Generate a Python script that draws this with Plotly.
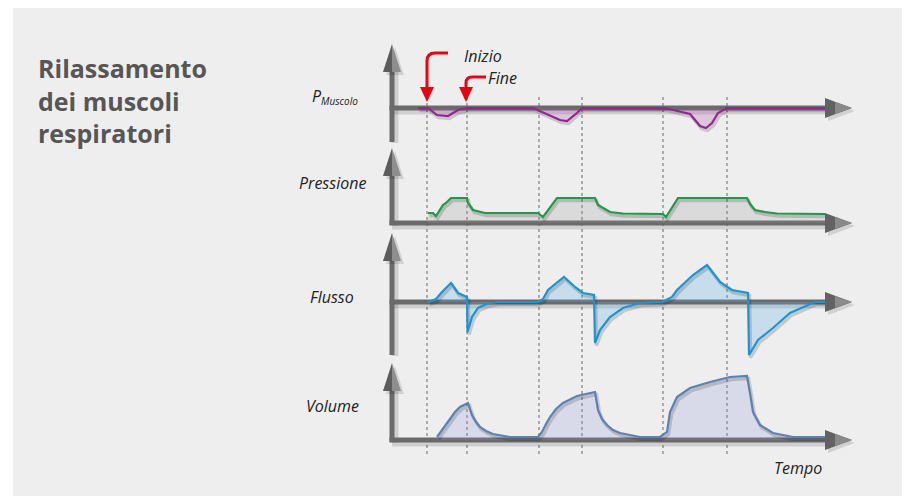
import numpy as np
import plotly.graph_objects as go

# page offset of the plot inside the browser page (body margin)
OFF = 8
W, H = 910 - OFF, 496 - OFF

# ---------------- data (time units, origin at the vertical axes) ----------------
event_times = [35, 75, 147, 190, 271, 335]   # Inizio / Fine of three breaths

musc_t = [26, 36, 45, 56, 66, 75, 141, 168, 175, 185, 190, 273, 298, 308, 314, 320, 326, 335, 433]
musc_v = [0, 0, -7, -8, -2, 0, 0, -12, -13, -5, 0, 0, -6, -18, -20, -15, -5, 0, 0]

pres_t = [36, 41, 44, 51, 54, 59, 75, 76, 81, 93, 146, 151, 165, 203, 206, 218, 231, 271,
          274, 286, 355, 358, 363, 373, 385, 433]
pres_v = [10, 10, 7, 18, 20, 25, 25, 20, 13, 10, 10, 6, 25, 25, 18, 11, 9.5, 9,
          6, 25, 25, 19, 13, 11, 9.5, 9]

flow_t = [36, 44, 50, 59, 66, 75, 75.5, 80, 86, 95, 105, 146, 151, 156, 172, 183, 191, 202,
          203, 208, 218, 231, 248, 270, 280, 285, 301, 315, 328, 340, 356, 357, 366, 381,
          398, 416, 423, 433]
flow_v = [0, 3, 10, 19, 9, 5, -30, -15, -6, -2, 0, 0, 3, 12, 25, 15, 9, 7,
          -41, -28, -15, -6, -1, 0, 5, 12, 27, 37, 20, 12, 9, -53, -38, -26,
          -11, -3, 0, 0]

vol_t = [45, 52, 58, 63, 68, 76, 80, 84, 88, 94, 101, 118, 146, 150, 154, 158, 164, 171, 185,
         203, 206, 210, 215, 221, 228, 248, 268, 275, 278, 285, 298, 318, 338, 355, 358, 361,
         368, 381, 401, 433]
vol_v = [3, 13, 22, 28, 33, 37, 25, 18, 13, 9, 6, 3, 3, 8, 16, 23, 31, 37, 44,
         48, 30, 21, 15, 10, 7, 3, 3, 8, 28, 43, 52, 58, 63, 64, 47, 28,
         15, 7, 3, 3]

labels = ["Pressione", "Flusso", "Volume"]
title_lines = ["Rilassamento", "dei muscoli", "respiratori"]

# ---------------- geometry (page pixels) ----------------
AX_X = 392          # vertical axes x
AX_END = 825        # horizontal axis end (arrow base)
AX_TIP = 852        # horizontal arrow tip
bases = [108, 223, 302, 440]                     # baseline pixel rows
vtips = [44, 148, 233, 363]                      # vertical arrow tips
vbottoms = [140, 223, 353, 440]                  # vertical line bottoms

def X(px):
    return (px - OFF) / W

def Y(py):
    return 1 - (py - OFF) / H

def path(points, close=True):
    s = "M " + " L ".join(f"{X(a):.5f},{Y(b):.5f}" for a, b in points)
    return s + (" Z" if close else "")

fig = go.Figure()

panels = [
    (musc_t, musc_v, "#93278f", "rgba(170,80,170,0.25)", "y"),
    (pres_t, pres_v, "#1f9a45", "rgba(150,150,150,0.22)", "y2"),
    (flow_t, flow_v, "#1b95d1", "rgba(100,180,235,0.28)", "y3"),
    (vol_t, vol_v, "#5b82b5", "rgba(140,150,220,0.22)", "y4"),
]

for t, v, col, fcol, ya in panels:
    t = np.array(t, dtype=float)
    v = np.array(v, dtype=float)
    fig.add_trace(go.Scatter(x=t, y=v, yaxis=ya, mode="lines", line=dict(width=0),
                             fill="tozeroy", fillcolor=fcol, hoverinfo="skip",
                             showlegend=False))
    fig.add_trace(go.Scatter(x=t + 1.5, y=v - 2.5, yaxis=ya, mode="lines",
                             line=dict(color="rgba(0,0,0,0.16)", width=3.5),
                             hoverinfo="skip", showlegend=False))
    fig.add_trace(go.Scatter(x=t, y=v, yaxis=ya, mode="lines",
                             line=dict(color=col, width=2.2), showlegend=False))

shapes = []
# background panel
shapes.append(dict(type="rect", xref="paper", yref="paper", x0=X(13), x1=1, y0=0, y1=1,
                   fillcolor="#eeeeee", line=dict(width=0), layer="below"))

# dotted event lines
for et in event_times:
    shapes.append(dict(type="line", xref="x", yref="paper", x0=et, x1=et, y0=Y(97), y1=Y(457),
                       line=dict(color="#666666", width=1, dash="dot"), layer="below"))

AXC = "#6a6a6a"
SH = "rgba(0,0,0,0.13)"
# axis shadows
for b, tip, bot in zip(bases, vtips, vbottoms):
    shapes.append(dict(type="line", xref="paper", yref="paper", x0=X(AX_X + 3), x1=X(AX_X + 3),
                       y0=Y(bot + 3), y1=Y(tip + 20), line=dict(color=SH, width=7), layer="below"))
    shapes.append(dict(type="line", xref="paper", yref="paper", x0=X(AX_X), x1=X(AX_END + 3),
                       y0=Y(b + 3), y1=Y(b + 3), line=dict(color=SH, width=7), layer="below"))
# axis lines
for b, tip, bot in zip(bases, vtips, vbottoms):
    shapes.append(dict(type="line", xref="paper", yref="paper", x0=X(AX_X), x1=X(AX_X),
                       y0=Y(bot + 2), y1=Y(tip + 20), line=dict(color=AXC, width=5), layer="below"))
    shapes.append(dict(type="line", xref="paper", yref="paper", x0=X(AX_X - 2.5), x1=X(AX_END + 2),
                       y0=Y(b), y1=Y(b), line=dict(color=AXC, width=5), layer="below"))
# arrow heads
for b, tip in zip(bases, vtips):
    base = tip + 28
    shapes.append(dict(type="path", xref="paper", yref="paper",
                       path=path([(AX_X + 3, tip + 3), (AX_X - 6, base + 3), (AX_X + 12, base + 3)]),
                       fillcolor="rgba(0,0,0,0.12)", line=dict(width=0), layer="above"))
    shapes.append(dict(type="path", xref="paper", yref="paper",
                       path=path([(AX_X, tip), (AX_X - 9, base), (AX_X, base)]),
                       fillcolor="#5c5c5c", line=dict(width=0), layer="above"))
    shapes.append(dict(type="path", xref="paper", yref="paper",
                       path=path([(AX_X, tip), (AX_X, base), (AX_X + 9, base)]),
                       fillcolor="#8e8e8e", line=dict(width=0), layer="above"))
    shapes.append(dict(type="path", xref="paper", yref="paper",
                       path=path([(AX_END + 3, b - 7), (AX_TIP + 3, b + 3), (AX_END + 3, b + 13)]),
                       fillcolor="rgba(0,0,0,0.12)", line=dict(width=0), layer="above"))
    shapes.append(dict(type="path", xref="paper", yref="paper",
                       path=path([(AX_END, b - 10), (AX_TIP, b), (AX_END, b + 10)]),
                       fillcolor="#626262", line=dict(width=0), layer="above"))
    shapes.append(dict(type="path", xref="paper", yref="paper",
                       path=path([(AX_END + 10, b - 6), (AX_TIP, b), (AX_END + 10, b + 6)]),
                       fillcolor="#8a8a8a", line=dict(width=0), layer="above"))

# red arrows (Inizio / Fine)
RED = "#e30613"
shapes.append(dict(type="path", xref="paper", yref="paper",
                   path=(f"M {X(448):.5f},{Y(53):.5f} L {X(435):.5f},{Y(53):.5f} "
                         f"Q {X(427):.5f},{Y(53):.5f} {X(427):.5f},{Y(61):.5f} "
                         f"L {X(427):.5f},{Y(89):.5f}"),
                   line=dict(color=RED, width=3), layer="above"))
shapes.append(dict(type="path", xref="paper", yref="paper",
                   path=path([(420, 87), (434, 87), (427, 102)]),
                   fillcolor=RED, line=dict(width=0), layer="above"))
shapes.append(dict(type="path", xref="paper", yref="paper",
                   path=(f"M {X(486):.5f},{Y(77):.5f} L {X(472):.5f},{Y(77):.5f} "
                         f"Q {X(466):.5f},{Y(77):.5f} {X(466):.5f},{Y(83):.5f} "
                         f"L {X(466):.5f},{Y(89):.5f}"),
                   line=dict(color=RED, width=3), layer="above"))
shapes.append(dict(type="path", xref="paper", yref="paper",
                   path=path([(459, 87), (473, 87), (466, 102)]),
                   fillcolor=RED, line=dict(width=0), layer="above"))

FONT = "Open Sans"
ann = []
ann.append(dict(xref="paper", yref="paper", x=X(36), y=Y(100), xanchor="left",
                yanchor="middle", align="left", showarrow=False,
                text="<br>".join(f"<b>{s}</b>" for s in title_lines),
                font=dict(family=FONT, size=25, color="#565656")))
ann.append(dict(xref="paper", yref="paper", x=X(335), y=Y(97), xanchor="center", yanchor="middle",
                showarrow=False,
                text="<i>P<sub><span style='font-size:10px'>Muscolo</span></sub></i>",
                font=dict(family=FONT, size=16, color="#222222")))
for lab, py in zip(labels, [183, 297, 406]):
    ann.append(dict(xref="paper", yref="paper", x=X(332), y=Y(py), xanchor="center",
                    yanchor="middle", showarrow=False, text=f"<i>{lab}</i>",
                    font=dict(family=FONT, size=16, color="#222222")))
ann.append(dict(xref="paper", yref="paper", x=X(462), y=Y(56), xanchor="left", yanchor="middle",
                showarrow=False, text="<i>Inizio</i>", font=dict(family=FONT, size=16, color="#222222")))
ann.append(dict(xref="paper", yref="paper", x=X(486), y=Y(78), xanchor="left", yanchor="middle",
                showarrow=False, text="<i>Fine</i>", font=dict(family=FONT, size=16, color="#222222")))
ann.append(dict(xref="paper", yref="paper", x=X(772), y=Y(468), xanchor="left", yanchor="middle",
                showarrow=False, text="<i>Tempo</i>", font=dict(family=FONT, size=16, color="#222222")))

def yax(base, **kw):
    top = base - OFF
    d = dict(range=[top - H, top], domain=[0, 1], visible=False, fixedrange=True)
    d.update(kw)
    return d

x0 = -(AX_X - OFF)
fig.update_layout(
    width=W, height=H, margin=dict(l=0, r=0, t=0, b=0),
    paper_bgcolor="white", plot_bgcolor="rgba(0,0,0,0)",
    xaxis=dict(range=[x0, x0 + W], domain=[0, 1], visible=False, fixedrange=True),
    yaxis=yax(bases[0]),
    yaxis2=yax(bases[1], overlaying="y"),
    yaxis3=yax(bases[2], overlaying="y"),
    yaxis4=yax(bases[3], overlaying="y"),
    shapes=shapes, annotations=ann, showlegend=False,
)

fig.write_html("out.html")
